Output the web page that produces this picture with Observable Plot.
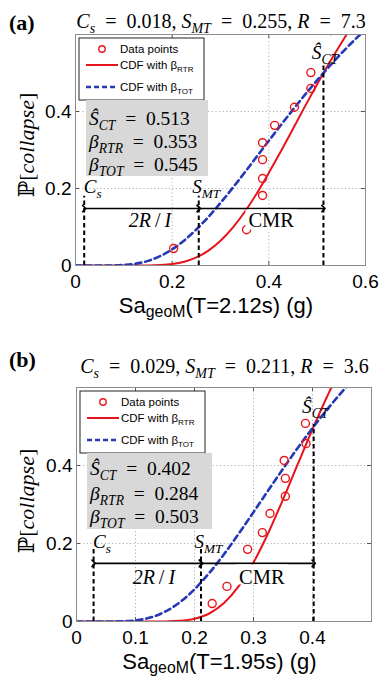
<!DOCTYPE html>
<html><head><meta charset="utf-8">
<script src="https://cdn.jsdelivr.net/npm/d3@7"></script>
<script src="https://cdn.jsdelivr.net/npm/@observablehq/plot@0.6"></script>
<style>
html,body{margin:0;padding:0;background:#fff}
body{width:382px;height:680px;overflow:hidden;position:relative}
.panel{position:absolute;left:0;width:382px}
</style></head><body>
<div id="pa" class="panel" style="top:0;height:330px"></div>
<div id="pb" class="panel" style="top:340px;height:340px"></div>
<script>
// ---------------- data: panel (a) ----------------
const aCurveX  = [0,0.025,0.05,0.075,0.1,0.125,0.15,0.175,0.2,0.225,0.25,0.275,0.3,0.325,0.35,0.375,0.4,0.425,0.45,0.475,0.5,0.525,0.55,0.575,0.6];
const aRedCDF  = [0,0,0,0,0,0.00003,0.00025,0.0012,0.0038,0.0098,0.0209,0.0387,0.0643,0.098,0.139,0.187,0.241,0.297,0.355,0.414,0.471,0.526,0.578,0.627,0.671];
const aBlueCDF = [0,0,0.00001,0.0002,0.0014,0.0048,0.012,0.0242,0.042,0.0652,0.0936,0.1263,0.1625,0.2012,0.2415,0.2827,0.324,0.3649,0.405,0.4439,0.4813,0.5169,0.5509,0.5829,0.6131];
const aPointsX = [0.203,0.354,0.387,0.387,0.387,0.387,0.412,0.453,0.487,0.487,0.528,0.56];
const aPointsY = [0.044,0.093,0.182,0.226,0.275,0.319,0.364,0.411,0.46,0.501,0.61,0.61];
const aXTicks  = [0,0.2,0.4,0.6];
const aValues  = {Cs:0.018, Smt:0.255, R:7.3, Sct:0.513, bRTR:0.353, bTOT:0.545, T:"2.12"};
const aMarks   = {csTop:0.18, sctTop:0.525, arrowY:0.148, rLabelX:0.155, cmrLabelX:0.406, labelY:0.117, sctLabelY:0.535};
// ---------------- data: panel (b) ----------------
const bCurveX  = [0,0.025,0.05,0.075,0.1,0.125,0.15,0.175,0.2,0.225,0.25,0.275,0.3,0.325,0.35,0.375,0.4,0.425,0.45,0.475];
const bRedCDF  = [0,0,0,0,0,0.00002,0.00026,0.0017,0.007,0.0205,0.0472,0.0906,0.1514,0.227,0.3129,0.4033,0.493,0.5776,0.6544,0.72];
const bBlueCDF = [0,0,0.00002,0.0004,0.0028,0.0101,0.025,0.0491,0.0826,0.1243,0.1725,0.2252,0.2803,0.3363,0.3915,0.445,0.496,0.544,0.5887,0.63];
const bPointsX = [0.23,0.255,0.29,0.315,0.328,0.354,0.354,0.352,0.389,0.388,0.428];
const bPointsY = [0.046,0.09,0.185,0.228,0.277,0.321,0.367,0.413,0.456,0.508,0.61];
const bXTicks  = [0,0.1,0.2,0.3,0.4];
const bValues  = {Cs:0.029, Smt:0.211, R:3.6, Sct:0.402, bRTR:0.284, bTOT:0.503, T:"1.95"};
const bMarks   = {csTop:0.19, sctTop:0.505, arrowY:0.149, rLabelX:0.132, cmrLabelX:0.315, labelY:0.113, sctLabelY:0.533};
const yTicks   = [0,0.2,0.4];

const SERIF = "'Liberation Serif','Times New Roman',serif";
const SANS = "'Liberation Sans',Arial,Helvetica,sans-serif";
const RED = "#e8141c", BLUE = "#2638b4";
const EQ = "\u2002=\u2002";

function rich(g, x, y, parts, o = {}) {
  const size = o.size || 20, fam = o.family || SERIF;
  const subScale = o.subScale || 0.7, subShift = o.subShift ?? 0.26;
  const t = g.append("text").attr("x", x).attr("y", y)
    .attr("font-size", size).attr("font-family", fam)
    .attr("text-anchor", o.anchor || "start").attr("fill", "#000")
    .style("white-space", "pre");
  if (o.weight) t.attr("font-weight", o.weight);
  if (o.rotate) t.attr("transform", `rotate(${o.rotate},${x},${y})`);
  let cur = 0;
  for (const p of parts) {
    const [s, f = ""] = Array.isArray(p) ? p : [p, ""];
    const ts = t.append("tspan").text(s);
    if (f.includes("i")) ts.attr("font-style", "italic");
    if (f.includes("d")) ts.attr("font-family", "'DejaVu Serif','DejaVu Sans',serif");
    const sub = f.includes("_");
    const want = sub ? size * subShift : 0;
    if (want !== cur) { ts.attr("dy", want - cur); cur = want; }
    if (sub) ts.attr("font-size", size * subScale);
  }
  return t;
}

function drawPanel(el, cfg) {
  const W = 382, m = cfg.margin, V = cfg.values, M = cfg.marks;
  const fw = W - m.left - m.right, fh = cfg.height - m.top - m.bottom;
  const red = cfg.curveX.map((x, i) => ({x, y: cfg.red[i]}));
  const blue = cfg.curveX.map((x, i) => ({x, y: cfg.blue[i]}));
  const pts = cfg.ptsX.map((x, i) => ({x, y: cfg.ptsY[i]}));
  const vlines = [{x: V.Cs, top: M.csTop}, {x: V.Smt, top: M.csTop}, {x: V.Sct, top: M.sctTop}];
  const arrows = [{x1: V.Cs, x2: V.Smt}, {x1: V.Smt, x2: V.Sct}];
  const grid = {stroke: "#b0b0b0", strokeOpacity: 1, strokeWidth: 1, strokeDasharray: "1.2,2.4"};
  const plot = Plot.plot({
    width: W, height: cfg.height,
    marginTop: m.top, marginRight: m.right, marginBottom: m.bottom, marginLeft: m.left,
    style: {fontFamily: SANS, fontSize: "19px", color: "#000", background: "transparent"},
    x: {domain: [0, cfg.xMax], label: null},
    y: {domain: [0, 0.6], label: null},
    marks: [
      Plot.gridX(cfg.xTicks, grid),
      Plot.gridY(yTicks, grid),
      Plot.tickX(cfg.xTicks, {x: d => d, insetBottom: fh - 4, stroke: "#555"}),
      Plot.tickX(cfg.xTicks, {x: d => d, insetTop: fh - 4, stroke: "#555"}),
      Plot.tickY(yTicks, {y: d => d, insetRight: fw - 4, stroke: "#555"}),
      Plot.tickY(yTicks, {y: d => d, insetLeft: fw - 4, stroke: "#555"}),
      Plot.axisX(cfg.xTicks, {tickSize: 0, tickPadding: 9, fontSize: 19, tickFormat: d => String(d), label: null}),
      Plot.axisY(yTicks, {tickSize: 0, tickPadding: 4, fontSize: 19, tickFormat: d => String(d), label: null}),
      Plot.line(red, {x: "x", y: "y", stroke: RED, strokeWidth: 2, curve: "monotone-x", clip: true}),
      Plot.line(blue, {x: "x", y: "y", stroke: BLUE, strokeWidth: 2.6, strokeDasharray: "6,4", curve: "monotone-x", clip: true}),
      Plot.dot(pts, {x: "x", y: "y", r: 4, stroke: RED, strokeWidth: 1.4, fill: "none", clip: true}),
      Plot.ruleX(vlines, {x: "x", y1: 0, y2: "top", stroke: "#000", strokeWidth: 2, strokeDasharray: "4.5,3"}),
      Plot.link(arrows, {x1: "x1", x2: "x2", y1: M.arrowY, y2: M.arrowY, stroke: "#000", strokeWidth: 1.6, markerStart: "arrow", markerEnd: "arrow"}),
      Plot.frame({stroke: "#8c8c8c"})
    ]
  });
  el.appendChild(plot);
  const sx = v => plot.scale("x").apply(v), sy = v => plot.scale("y").apply(v);
  const g = d3.select(plot).append("g");

  // panel tag and title
  rich(g, 9, cfg.tagBase, [cfg.tag], {size: 22, weight: "bold"});
  rich(g, m.left + fw / 2 + 1, cfg.titleBase,
    [["C", "i"], ["s", "i_"], EQ + V.Cs + ", ", ["S", "i"], ["MT", "i_"], EQ + V.Smt + ", ", ["R", "i"], EQ + V.R],
    {size: 20, anchor: "middle"});

  // axis labels
  rich(g, 34, cfg.yLabelCenter, [["ℙ", "d"], "[", ["collapse", "i"], "]"], {size: 22, anchor: "middle", rotate: -90});
  rich(g, m.left + fw / 2 - 4, cfg.height - m.bottom + 48, ["Sa", ["geoM", "_"], "(T=" + V.T + "s) (g)"],
    {size: 22, family: SANS, anchor: "middle", subScale: 0.72, subShift: 0.2});

  // legend
  const L = {x: m.left + 4, y: m.top + 4, w: 125, h: 62};
  g.append("rect").attr("x", L.x).attr("y", L.y).attr("width", L.w).attr("height", L.h)
    .attr("fill", "#fff").attr("stroke", "#222").attr("stroke-width", 1);
  g.append("circle").attr("cx", L.x + 23).attr("cy", L.y + 11).attr("r", 3.2)
    .attr("fill", "none").attr("stroke", RED).attr("stroke-width", 1.4);
  rich(g, L.x + 41, L.y + 15, ["Data points"], {size: 11.5, family: SANS});
  g.append("line").attr("x1", L.x + 7).attr("x2", L.x + 39).attr("y1", L.y + 27).attr("y2", L.y + 27)
    .attr("stroke", RED).attr("stroke-width", 2);
  rich(g, L.x + 41, L.y + 31, ["CDF with β", ["RTR", "_"]], {size: 11.5, family: SANS});
  g.append("line").attr("x1", L.x + 7).attr("x2", L.x + 39).attr("y1", L.y + 49).attr("y2", L.y + 49)
    .attr("stroke", BLUE).attr("stroke-width", 2.6).attr("stroke-dasharray", "5,3");
  rich(g, L.x + 41, L.y + 53, ["CDF with β", ["TOT", "_"]], {size: 11.5, family: SANS});

  // statistics box
  const S = {x: m.left + 11, y: L.y + L.h, w: cfg.statsW, h: cfg.statsH};
  g.append("rect").attr("x", S.x).attr("y", S.y).attr("width", S.w).attr("height", S.h).attr("fill", "#d8d8d8");
  const lines = [
    [["Ŝ", "i"], ["CT", "i_"], EQ + V.Sct],
    [["β", "i"], ["RTR", "i_"], EQ + V.bRTR],
    [["β", "i"], ["TOT", "i_"], EQ + V.bTOT]
  ];
  lines.forEach((p, i) => rich(g, S.x + 3, S.y + cfg.statsLines[i] + 7, p, {size: 19.5}));

  // annotations
  rich(g, sx(V.Cs), sy(0.2) + 5, [["C", "i"], ["s", "i_"]], {size: 19});
  rich(g, sx(V.Smt) - 6, sy(0.2) + 5, [["S", "i"], ["MT", "i_"]], {size: 19});
  rich(g, sx(V.Sct) + 2, sy(M.sctLabelY), [["Ŝ", "i"], ["CT", "i_"]], {size: 19.5, anchor: "middle"});
  rich(g, sx(M.rLabelX), sy(M.labelY) + 7, [["2R", "i"], "\u2009/\u2009", ["I", "i"]], {size: 20, anchor: "middle"});
  const box = g.append("rect").attr("fill", "#fff");
  const cmr = rich(g, sx(M.cmrLabelX), sy(M.labelY) + 7, ["CMR"], {size: 20.5, anchor: "middle"});
  const tw = cmr.node().getComputedTextLength();
  const ay = sy(M.arrowY);
  box.attr("x", sx(M.cmrLabelX) - tw / 2 - 3).attr("width", tw + 6)
    .attr("y", ay + 1.5).attr("height", 20);
}

drawPanel(document.getElementById("pa"), {
  tag: "(a)", height: 330, margin: {top: 34, right: 17, bottom: 65, left: 75}, xMax: 0.6,
  xTicks: aXTicks, curveX: aCurveX, red: aRedCDF, blue: aBlueCDF, ptsX: aPointsX, ptsY: aPointsY,
  values: aValues, marks: aMarks, tagBase: 30, titleBase: 28, yLabelCenter: 145,
  statsW: 122, statsH: 76, statsLines: [18, 41, 64]
});
drawPanel(document.getElementById("pb"), {
  tag: "(b)", height: 340, margin: {top: 47, right: 11, bottom: 59, left: 76}, xMax: 0.5,
  xTicks: bXTicks, curveX: bCurveX, red: bRedCDF, blue: bBlueCDF, ptsX: bPointsX, ptsY: bPointsY,
  values: bValues, marks: bMarks, tagBase: 27, titleBase: 33, yLabelCenter: 161,
  statsW: 125, statsH: 76, statsLines: [15, 40, 63]
});
</script>
</body></html>
